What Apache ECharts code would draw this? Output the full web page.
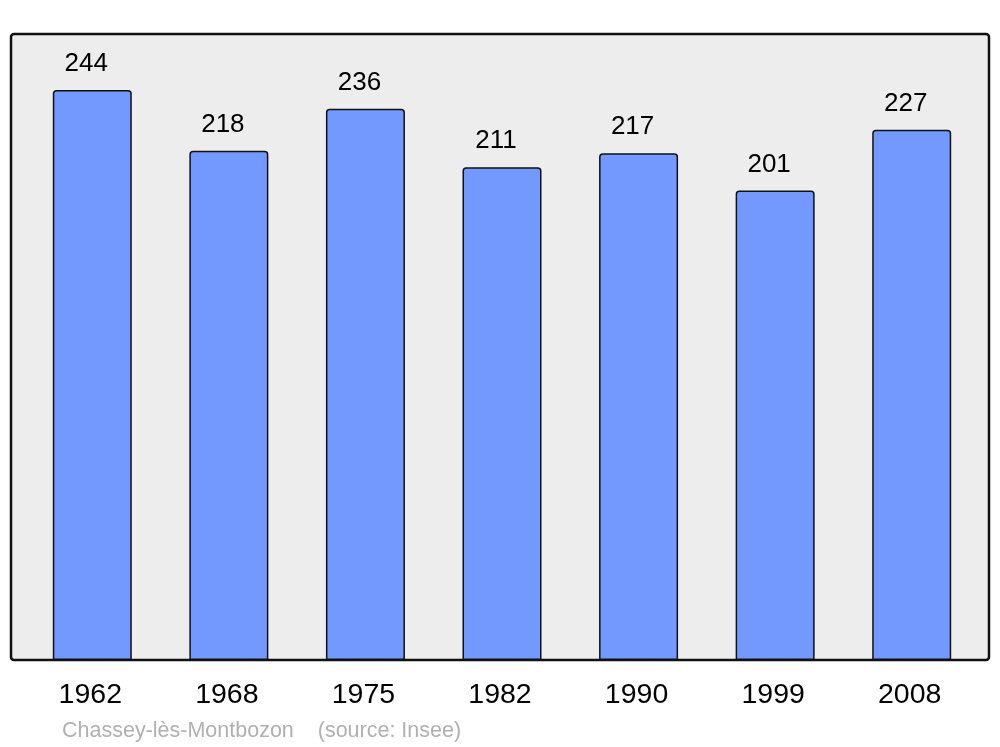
<!DOCTYPE html>
<html><head><meta charset="utf-8">
<script src="https://cdn.jsdelivr.net/npm/echarts@6/dist/echarts.min.js"></script>
<style>html,body{margin:0;padding:0;background:#fff}#c{width:1000px;height:747px}</style>
</head><body><div id="c"></div>
<script>
const years = ['1962','1968','1975','1982','1990','1999','2008'];
const population = [244, 218, 236, 211, 217, 201, 227];
const footerText = 'Chassey-lès-Montbozon    (source: Insee)';

const chart = echarts.init(document.getElementById('c'), null, {renderer:'canvas'});
chart.setOption({
  animation: false,
  backgroundColor: '#ffffff',
  graphic: [
    {type:'rect', z:-10, shape:{x:11, y:34, width:978, height:626, r:3},
     style:{fill:'#ededed', stroke:'#111', lineWidth:2.5}},
    {type:'text', left:62, top:720, style:{text:footerText, fill:'#b0b0b0', font:'21.5px "Liberation Sans", Arial, sans-serif'}}
  ],
  grid: {left:24, right:20, top:34, bottom:87},
  xAxis: {
    type:'category', data: years,
    axisLine:{show:false}, axisTick:{show:false},
    axisLabel:{color:'#000', fontSize:28.5, fontFamily:'"Liberation Sans", Arial, sans-serif', margin:21,
      padding:[0,4,0,0]}
  },
  yAxis: {type:'value', min:0, max:268, show:false, splitLine:{show:false}},
  series: [{
    type:'bar', data: population, barWidth:79,
    itemStyle:{color:'#7399ff', borderColor:'#111', borderWidth:1.5, borderRadius:[3,3,0,0]},
    label:{show:true, position:'top', distance:13, offset:[-6,0], color:'#000', fontSize:26,
      fontFamily:'"Liberation Sans", Arial, sans-serif'}
  }]
});
</script></body></html>
